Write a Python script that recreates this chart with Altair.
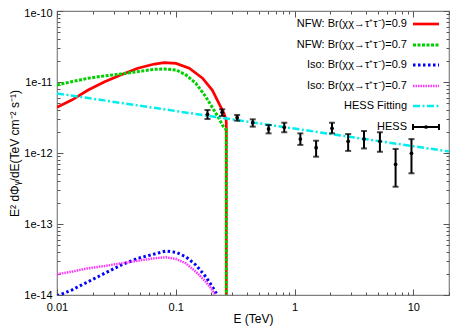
import altair as alt
import pandas as pd

# ---- data ----
E_NFW09 = [0.01, 0.0133, 0.0183, 0.0252, 0.0348, 0.0479, 0.0661, 0.0802, 0.1005, 0.13, 0.168, 0.203, 0.231, 0.255, 0.266, 0.2665, 0.2665]
F_NFW09 = [4.4e-12, 5.57e-12, 7.71e-12, 1.01e-11, 1.26e-11, 1.56e-11, 1.79e-11, 1.87e-11, 1.83e-11, 1.56e-11, 1.13e-11, 7.7e-12, 5.0e-12, 3.6e-12, 2.9e-12, 2.5e-12, 1e-16]

E_NFW07 = [0.01, 0.0133, 0.0183, 0.0252, 0.0348, 0.0479, 0.0661, 0.0802, 0.1005, 0.1216, 0.1476, 0.179, 0.210, 0.231, 0.2466, 0.2665, 0.2665]
F_NFW07 = [9.08e-12, 1.01e-11, 1.13e-11, 1.22e-11, 1.30e-11, 1.40e-11, 1.51e-11, 1.525e-11, 1.48e-11, 1.26e-11, 9.6e-12, 6.2e-12, 4.0e-12, 3.08e-12, 2.48e-12, 2.11e-12, 1e-16]

E_ISO09 = [0.01, 0.0133, 0.0183, 0.0252, 0.0348, 0.0479, 0.0661, 0.0828, 0.1005, 0.1216, 0.1476, 0.179, 0.2032, 0.2239, 0.2466, 0.2665, 0.2665]
F_ISO09 = [9.7e-15, 1.175e-14, 1.54e-14, 2.02e-14, 2.65e-14, 3.29e-14, 3.78e-14, 4.17e-14, 3.99e-14, 3.46e-14, 2.65e-14, 1.81e-14, 1.31e-14, 1.0e-14, 7.0e-15, 5.5e-15, 1e-18]

E_ISO07 = [0.01, 0.0133, 0.0183, 0.0252, 0.0348, 0.0479, 0.0661, 0.0828, 0.1005, 0.1216, 0.1476, 0.179, 0.2032, 0.2168, 0.2466, 0.2665, 0.2665]
F_ISO07 = [1.96e-14, 2.13e-14, 2.38e-14, 2.56e-14, 2.79e-14, 3.04e-14, 3.29e-14, 3.40e-14, 3.21e-14, 2.79e-14, 2.13e-14, 1.54e-14, 1.175e-14, 9.6e-15, 6.5e-15, 5.0e-15, 1e-18]

FIT_E = [0.01, 20]
FIT_F = [6.9e-12, 1.05e-12]

HESS_E = [0.185, 0.246, 0.329, 0.445, 0.605, 0.82, 1.12, 1.52, 2.07, 2.83, 3.85, 5.24, 7.1, 9.66]
HESS_F = [3.5e-12, 3.74e-12, 3.14e-12, 2.67e-12, 2.18e-12, 2.30e-12, 1.57e-12, 1.19e-12, 2.23e-12, 1.46e-12, 1.57e-12, 1.46e-12, 6.93e-13, 9.9e-13]
HESS_HI = [4.03e-12, 4.12e-12, 3.43e-12, 2.98e-12, 2.48e-12, 2.67e-12, 1.89e-12, 1.49e-12, 2.67e-12, 1.85e-12, 2.04e-12, 1.96e-12, 1.14e-12, 1.57e-12]
HESS_LO = [3.01e-12, 3.32e-12, 2.85e-12, 2.35e-12, 1.89e-12, 1.96e-12, 1.30e-12, 8.87e-13, 1.89e-12, 1.07e-12, 1.16e-12, 1.04e-12, 3.35e-13, 5.18e-13]

LABELS = ["NFW: Br(χχ→τ⁺τ⁻)=0.9", "NFW: Br(χχ→τ⁺τ⁻)=0.7",
          "Iso: Br(χχ→τ⁺τ⁻)=0.9", "Iso: Br(χχ→τ⁺τ⁻)=0.7",
          "HESS Fitting", "HESS"]

X_TICKS = [m * 10.0 ** k for k in (-2, -1, 0) for m in range(1, 10)] + [10, 20]
Y_TICKS = [m * 10.0 ** k for k in (-14, -13, -12, -11) for m in range(1, 10)] + [1e-10]

W, H = 392, 284
FONT = "Liberation Sans"
MAJOR = "abs(log(datum.value)/LN10 - round(log(datum.value)/LN10)) < 1e-6"

xaxis = alt.Axis(
    values=X_TICKS, title="E (TeV)", labelExpr=f"({MAJOR}) ? format(datum.value, '~g') : ''",
    ticks=False, domain=False, grid=True, gridColor="#555555", gridWidth=1,
    gridDash={"condition": {"test": MAJOR, "value": [6, H - 12, 6, 2000]}, "value": [3, H - 6, 3, 2000]},
    labelPadding=6, titlePadding=1, labelFontSize=11, titleFontSize=12, labelFlush=False,
)
yaxis = alt.Axis(
    values=Y_TICKS, title="E² dΦᵧ/dE(TeV cm⁻² s⁻¹)",
    labelExpr=f"({MAJOR}) ? '1e' + round(log(datum.value)/LN10) : ''",
    labelOffset={"condition": {"test": "datum.value > 5e-11", "value": 2}, "value": 0},
    ticks=False, domain=False, grid=True, gridColor="#555555", gridWidth=1,
    gridDash={"condition": {"test": MAJOR, "value": [6, W - 12, 6, 2000]}, "value": [3, W - 6, 3, 2000]},
    labelPadding=5, titleX=-36, titleY=H / 2, labelFontSize=11, titleFontSize=12, labelFlush=False,
)
xs = alt.Scale(type="log", domain=[0.01, 20], nice=False)
ys = alt.Scale(type="log", domain=[1e-14, 1e-10], nice=False)
X = alt.X("E:Q", scale=xs, axis=xaxis)
Y = alt.Y("F:Q", scale=ys, axis=yaxis)


def curve(es, fs):
    return pd.DataFrame({"E": es, "F": fs, "i": list(range(len(es)))})


styles = [
    (E_NFW09, F_NFW09, "#ff0000", 2.7, None),
    (E_NFW07, F_NFW07, "#00d000", 3, [3, 1.5]),
    (E_ISO09, F_ISO09, "#0000ff", 3, [2.5, 2.5]),
    (E_ISO07, F_ISO07, "#ff33ff", 2.5, [1.5, 1]),
    (FIT_E, FIT_F, "#00eeee", 2.5, [7, 2.5, 2, 2.5]),
]

layers = []
for es, fs, col, sw, dash in styles:
    kw = dict(color=col, strokeWidth=sw, clip=True)
    if dash:
        kw["strokeDash"] = dash
    layers.append(alt.Chart(curve(es, fs)).mark_line(**kw).encode(x=X, y=Y, order="i:Q"))

hess = pd.DataFrame({"E": HESS_E, "F": HESS_F, "lo": HESS_LO, "hi": HESS_HI})
layers.append(alt.Chart(hess).mark_rule(color="black", strokeWidth=2).encode(x=X, y=alt.Y("lo:Q", scale=ys, axis=yaxis), y2="hi:Q"))
layers.append(alt.Chart(hess).mark_tick(color="black", orient="horizontal", size=6, thickness=2).encode(x=X, y=alt.Y("lo:Q", scale=ys, axis=yaxis)))
layers.append(alt.Chart(hess).mark_tick(color="black", orient="horizontal", size=6, thickness=2).encode(x=X, y=alt.Y("hi:Q", scale=ys, axis=yaxis)))
layers.append(alt.Chart(hess).mark_point(color="black", filled=True, size=14, opacity=1).encode(x=X, y=Y))

# ---- key (gnuplot style, inside top right); positions relative to plot origin ----
one = pd.DataFrame({"d": [0]})
key_y = [13, 34, 54, 75, 95, 116]
key_styles = styles[:5]
for k, lab in enumerate(LABELS):
    yy = key_y[k]
    layers.append(alt.Chart(one).mark_text(align="right", baseline="middle", fontSize=11, font=FONT, color="black", text=lab)
                  .encode(x=alt.value(350), y=alt.value(yy)))
    if k < 5:
        _, _, col, sw, dash = key_styles[k]
        kw = dict(color=col, strokeWidth=sw)
        if dash:
            kw["strokeDash"] = dash
        layers.append(alt.Chart(one).mark_rule(**kw).encode(x=alt.value(356), x2=alt.value(382), y=alt.value(yy)))
    else:
        layers.append(alt.Chart(one).mark_rule(color="black", strokeWidth=2).encode(x=alt.value(356), x2=alt.value(382), y=alt.value(yy)))
        for xv in (356, 382):
            layers.append(alt.Chart(one).mark_rule(color="black", strokeWidth=2).encode(x=alt.value(xv), y=alt.value(yy - 3), y2=alt.value(yy + 3)))
        layers.append(alt.Chart(one).mark_point(color="black", filled=True, size=14, opacity=1).encode(x=alt.value(369), y=alt.value(yy)))

chart = alt.layer(*layers).properties(
    width=W, height=H,
    autosize=alt.AutoSizeParams(type="none"),
    padding={"left": 49, "top": 3, "right": 8, "bottom": 31},
).configure_view(stroke="#808080", strokeWidth=1.2).configure_axis(
    labelFont=FONT, titleFont=FONT, labelColor="black", titleColor="black", titleFontWeight="normal"
)

chart.save("out.html", embed_options={"renderer": "svg", "actions": False})
